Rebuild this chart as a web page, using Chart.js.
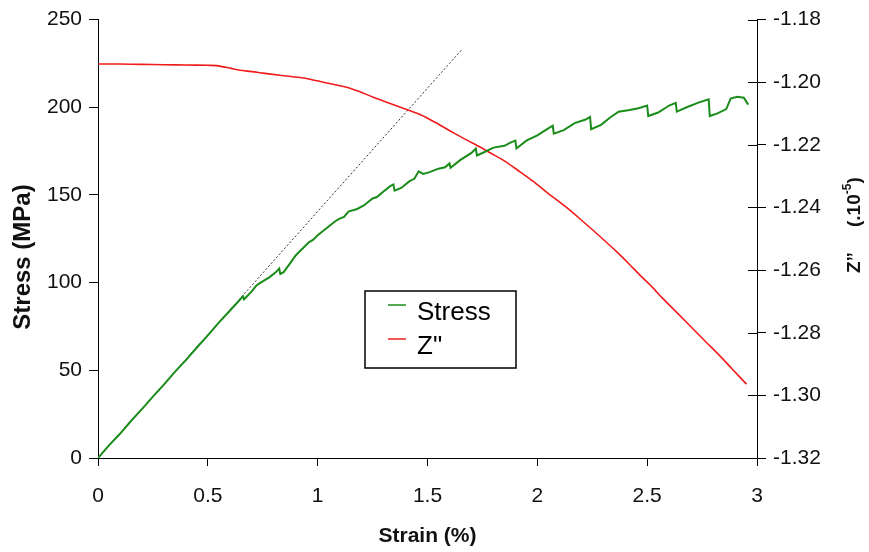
<!DOCTYPE html>
<html>
<head>
<meta charset="utf-8">
<script src="https://cdn.jsdelivr.net/npm/chart.js"></script>
<style>
  body { margin: 0; background: #fff; }
  #wrap { width: 869px; height: 552px; }
</style>
</head>
<body>
<div id="wrap"><canvas id="myChart" width="869" height="552"></canvas></div>
<script>
// Data

var stressStrain = [0, 0.05, 0.1, 0.15, 0.2, 0.25, 0.3, 0.35, 0.4, 0.45, 0.5, 0.55, 0.6, 0.66, 0.665, 0.7, 0.72, 0.74, 0.78, 0.81, 0.825, 0.83, 0.845, 0.88, 0.9, 0.92, 0.96, 0.98, 1.0, 1.04, 1.08, 1.1, 1.12, 1.14, 1.18, 1.21, 1.25, 1.27, 1.29, 1.33, 1.345, 1.35, 1.38, 1.42, 1.44, 1.46, 1.48, 1.51, 1.55, 1.58, 1.6, 1.605, 1.65, 1.7, 1.72, 1.725, 1.76, 1.8, 1.85, 1.88, 1.9, 1.905, 1.95, 2.0, 2.05, 2.07, 2.075, 2.12, 2.17, 2.22, 2.24, 2.245, 2.29, 2.33, 2.37, 2.42, 2.46, 2.5, 2.505, 2.55, 2.6, 2.63, 2.635, 2.68, 2.73, 2.78, 2.785, 2.82, 2.86, 2.88, 2.91, 2.94, 2.95, 2.96];
var stressValues = [0, 7.2, 13.8, 21.1, 27.9, 35.0, 41.8, 49.1, 55.8, 63.0, 69.9, 77.2, 84.0, 92.2, 90.5, 95.0, 98.2, 100.0, 103.0, 106.0, 108.0, 105.0, 106.0, 112.0, 115.5, 118.0, 123.0, 124.5, 127.0, 131.0, 135.0, 136.5, 137.5, 140.5, 142.0, 144.0, 148.0, 148.8, 151.0, 155.0, 156.0, 152.5, 154.0, 158.0, 159.2, 163.5, 162.0, 163.0, 165.0, 165.8, 168.0, 165.5, 170.0, 174.0, 176.5, 172.5, 174.5, 177.0, 178.0, 180.0, 181.0, 176.5, 181.0, 184.0, 188.0, 189.5, 185.0, 187.0, 191.0, 193.0, 194.5, 187.5, 190.0, 194.0, 197.5, 198.5, 199.5, 201.0, 195.0, 197.0, 201.0, 202.5, 197.5, 200.0, 202.5, 204.5, 195.0, 196.5, 199.0, 205.0, 206.0, 205.5, 203.5, 201.5];

var zStrain = [0, 0.1, 0.2, 0.3, 0.4, 0.5, 0.54, 0.6, 0.646, 0.7, 0.752, 0.82, 0.92, 0.97, 1.026, 1.08, 1.132, 1.19, 1.253, 1.33, 1.405, 1.466, 1.511, 1.56, 1.617, 1.68, 1.739, 1.784, 1.85, 1.921, 1.98, 2.042, 2.133, 2.2, 2.27, 2.361, 2.42, 2.467, 2.52, 2.573, 2.64, 2.709, 2.77, 2.831, 2.89, 2.952];
var zValues = [-1.1942, -1.1942, -1.1943, -1.1944, -1.1945, -1.1946, -1.1947, -1.1955, -1.1962, -1.1966, -1.1971, -1.1977, -1.1985, -1.1991, -1.2000, -1.2008, -1.2016, -1.2030, -1.2048, -1.2068, -1.2087, -1.2103, -1.2119, -1.2138, -1.2161, -1.2185, -1.2207, -1.2225, -1.2251, -1.2286, -1.2316, -1.2351, -1.2400, -1.2440, -1.2483, -1.2541, -1.2582, -1.2616, -1.2652, -1.2692, -1.2739, -1.2788, -1.2831, -1.2874, -1.2918, -1.2964];

// dotted elastic line
var fitStrain = [0, 1.657];
var fitStress = [0, 233];

var strainTicks = [0, 0.5, 1, 1.5, 2, 2.5, 3];
var stressTicks = [0, 50, 100, 150, 200, 250];
var zTicks = [-1.32, -1.30, -1.28, -1.26, -1.24, -1.22, -1.20, -1.18];

function toPoints(xs, ys) {
    var pts = [];
    for (let i = 0; i < xs.length; i++) {
        pts.push({ x: xs[i], y: ys[i] });
    }
    return pts;
}

var FONT = '"Liberation Sans", Arial, sans-serif';

// Extra bits: inner ticks on right axis, axis titles, boxed legend

var extras = {
    id: 'extras',
    afterDraw: function (chart) {
        var ctx = chart.ctx;
        var z = chart.scales.yZ;
        ctx.save();
        ctx.strokeStyle = '#000';
        ctx.lineWidth = 1;
        z.ticks.forEach(function (t) {
            var y = Math.round(z.getPixelForValue(t.value)) + 0.5;
            ctx.beginPath();
            ctx.moveTo(z.left - 9, y);
            ctx.lineTo(z.left, y);
            ctx.stroke();
        });
        ctx.restore();

        // left title
        ctx.save();
        ctx.translate(23, 257);
        ctx.rotate(-Math.PI / 2);
        ctx.fillStyle = '#111';
        ctx.textAlign = 'center';
        ctx.textBaseline = 'middle';
        ctx.font = 'bold 24px ' + FONT;
        ctx.fillText('Stress (MPa)', 0, 0);
        ctx.restore();

        // right title, bottom to top
        ctx.save();
        ctx.translate(855, 224);
        ctx.rotate(-Math.PI / 2);
        ctx.fillStyle = '#111';
        ctx.textBaseline = 'middle';
        ctx.font = 'bold 19px ' + FONT;
        ctx.fillText('Z\u201D', -49, 0);
        var a = '(.10';
        var wa = ctx.measureText(a).width;
        ctx.fillText(a, -3, 0);
        ctx.font = 'bold 12px ' + FONT;
        var ws = ctx.measureText('-5').width;
        ctx.fillText('-5', -3 + wa, -7);
        ctx.font = 'bold 19px ' + FONT;
        ctx.fillText(')', -3 + wa + ws, 0);
        ctx.restore();

        // legend box
        ctx.save();
        ctx.strokeStyle = '#000';
        ctx.lineWidth = 1.5;
        ctx.fillStyle = '#fff';
        ctx.fillRect(365, 291, 151, 77);
        ctx.strokeRect(365, 291, 151, 77);
        var rows = [0, 1];
        rows.forEach(function (i) {
            var ds = chart.data.datasets[i];
            var y = 305 + i * 34;
            ctx.strokeStyle = ds.borderColor;
            ctx.lineWidth = 1.5;
            ctx.beginPath();
            ctx.moveTo(388, y);
            ctx.lineTo(406, y);
            ctx.stroke();
            ctx.fillStyle = '#000';
            ctx.font = '26px ' + FONT;
            ctx.textBaseline = 'middle';
            ctx.fillText(ds.label, 417, y + 8);
        });
        ctx.restore();
    }
};

var ctx = document.getElementById('myChart').getContext('2d');
var chart = new Chart(ctx, {
    type: 'scatter',
    data: {
        datasets: [{
                label: 'Stress',
                data: toPoints(stressStrain, stressValues),
                borderColor: '#1a8c1a',
                borderWidth: 2,
                showLine: true,
                pointRadius: 0,
                yAxisID: 'y'
            },
            {
                label: 'Z"',
                data: toPoints(zStrain, zValues),
                borderColor: '#f01c1c',
                borderWidth: 1.6,
                showLine: true,
                tension: 0.3,
                pointRadius: 0,
                yAxisID: 'yZ'
            },
            {
                label: 'fit',
                data: toPoints(fitStrain, fitStress),
                borderColor: '#333',
                borderWidth: 1,
                borderDash: [2, 2],
                showLine: true,
                pointRadius: 0,
                yAxisID: 'y'
            }
        ]
    },
    options: {
        responsive: false,
        animation: false,
        layout: { padding: { top: 16, right: 0, left: 0, bottom: 0 } },
        plugins: {
            legend: { display: false },
            tooltip: { enabled: false }
        },
        scales: {
            x: {
                type: 'linear',
                min: 0,
                max: 3,
                afterBuildTicks: function (s) { s.ticks = strainTicks.map(function (v) { return { value: v }; }); },
                afterFit: function (s) { s.height = 94; },
                ticks: {
                    color: '#111',
                    font: { family: FONT, size: 21 },
                    padding: 18,
                    maxRotation: 0,
                    callback: function (v) { return String(v); }
                },
                grid: { drawOnChartArea: false, tickLength: 8, color: '#000' },
                border: { color: '#000', width: 1 },
                title: {
                    display: true,
                    text: 'Strain (%)',
                    color: '#111',
                    font: { family: FONT, size: 21, weight: 'bold' },
                    padding: { top: 0, bottom: 3 }
                }
            },
            y: {
                position: 'left',
                min: 0,
                max: 250,
                afterBuildTicks: function (s) { s.ticks = stressTicks.map(function (v) { return { value: v }; }); },
                afterFit: function (s) { s.width = 98; },
                ticks: {
                    color: '#111',
                    font: { family: FONT, size: 21 },
                    padding: 7
                },
                grid: { drawOnChartArea: false, tickLength: 9, color: '#000' },
                border: { color: '#000', width: 1 }
            },
            yZ: {
                position: 'right',
                min: -1.32,
                max: -1.18,
                afterBuildTicks: function (s) { s.ticks = zTicks.map(function (v) { return { value: v }; }); },
                afterFit: function (s) { s.width = 112; },
                ticks: {
                    color: '#111',
                    font: { family: FONT, size: 21 },
                    padding: 7,
                    callback: function (v) { return v.toFixed(2); }
                },
                grid: { drawOnChartArea: false, tickLength: 9, color: '#000' },
                border: { color: '#000', width: 1 }
            }
        }
    },
    plugins: [extras]
});
</script>
</body>
</html>
